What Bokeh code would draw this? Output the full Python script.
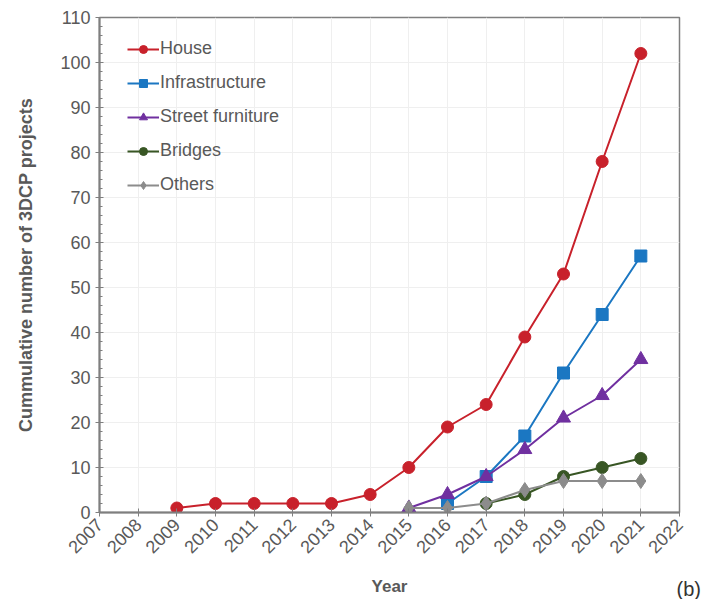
from bokeh.plotting import figure
from bokeh.models import (Range1d, FixedTicker, Legend, LegendItem, Label)
from bokeh.embed import file_html
from bokeh.resources import INLINE
import math

# Cumulative number of 3D concrete printing projects per category
house_years = [2009, 2010, 2011, 2012, 2013, 2014, 2015, 2016, 2017, 2018, 2019, 2020, 2021]
house = [1, 2, 2, 2, 2, 4, 10, 19, 24, 39, 53, 78, 102]

infra_years = [2016, 2017, 2018, 2019, 2020, 2021]
infrastructure = [2, 8, 17, 31, 44, 57]

street_years = [2015, 2016, 2017, 2018, 2019, 2020, 2021]
street_furniture = [1, 4, 8, 14, 21, 26, 34]

bridge_years = [2017, 2018, 2019, 2020, 2021]
bridges = [2, 4, 8, 10, 12]

other_years = [2015, 2016, 2017, 2018, 2019, 2020, 2021]
others = [1, 1, 2, 5, 7, 7, 7]

x_ticks = list(range(2007, 2023))
y_ticks = list(range(0, 111, 10))

FONT = "Liberation Sans"
TXT = "#595959"

p = figure(width=707, height=599, output_backend="svg", toolbar_location=None,
           x_range=Range1d(2007, 2022), y_range=Range1d(0, 110),
           min_border_left=99, min_border_right=28, min_border_top=17, min_border_bottom=87)
p.outline_line_color = "#7f7f7f"
p.outline_line_width = 1.5
p.background_fill_color = "white"

p.xgrid.ticker = FixedTicker(ticks=x_ticks)
p.ygrid.ticker = FixedTicker(ticks=y_ticks)
p.xgrid.grid_line_color = "#efefef"
p.ygrid.grid_line_color = "#efefef"

p.xaxis.ticker = FixedTicker(ticks=x_ticks)
p.yaxis.ticker = FixedTicker(ticks=y_ticks, minor_ticks=list(range(0, 111, 2)))
p.xaxis.major_label_orientation = math.pi / 4
for ax in (p.xaxis[0], p.yaxis[0]):
    ax.axis_line_color = "#7f7f7f"
    ax.axis_line_width = 2
    ax.major_tick_line_color = "#7f7f7f"
    ax.minor_tick_line_color = "#7f7f7f"
    ax.major_tick_in = 4
    ax.major_tick_out = 4
    ax.major_label_text_font = FONT
    ax.major_label_text_font_size = "18px"
    ax.major_label_text_color = TXT
    ax.axis_label_text_font = FONT
    ax.axis_label_text_font_style = "bold"
    ax.axis_label_text_color = TXT
p.xaxis.axis_label_text_font_size = "17px"
p.yaxis.axis_label_text_font_size = "18px"
p.xaxis.minor_tick_line_color = None
p.yaxis.minor_tick_in = 3
p.yaxis.minor_tick_out = 0
p.xaxis.axis_label = "Year"
p.yaxis.axis_label = "Cummulative number of 3DCP projects"
p.xaxis.axis_label_standoff = 15
p.yaxis.axis_label_standoff = 21

series = [
    ("House", house_years, house, "#c8212b", "circle", 12),
    ("Infrastructure", infra_years, infrastructure, "#1b77c2", "square", 12),
    ("Street furniture", street_years, street_furniture, "#7030a0", "triangle", 14),
    ("Bridges", bridge_years, bridges, "#385624", "circle", 12),
    ("Others", other_years, others, "#8c8c8c", "diamond", 15),
]

items = []
for name, xs, ys, color, marker, size in series:
    ln = p.line(xs, ys, line_color=color, line_width=2)
    mk = p.scatter(xs, ys, marker=marker, size=size, fill_color=color, line_color=color)
    items.append(LegendItem(label=name, renderers=[ln, mk]))

legend = Legend(items=items, border_line_color=None,
                background_fill_alpha=0, label_text_font=FONT,
                label_text_font_size="18px", label_text_color=TXT,
                glyph_width=32, glyph_height=20, spacing=13, label_standoff=1,
                margin=0, padding=0, location=(28, 317))
p.add_layout(legend)

# panel tag in the lower right corner, kept in the right-hand side panel
tag = Label(x=-3, y=-87, x_units="screen", y_units="screen", text="(b)",
            text_font=FONT, text_font_size="20px", text_color="#333333",
            text_baseline="bottom", text_align="left")
p.add_layout(tag, "right")

open("out.html", "w").write(file_html(p, INLINE))
